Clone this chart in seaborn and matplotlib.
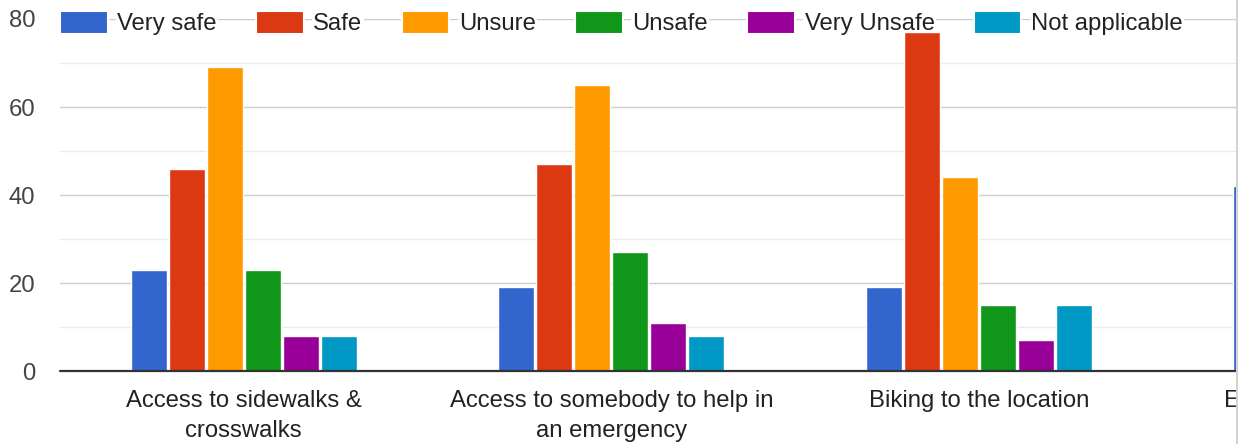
import numpy as np
import pandas as pd
import matplotlib.pyplot as plt
from matplotlib.patches import Patch, Rectangle
from matplotlib.lines import Line2D
import seaborn as sns

# --- DATA ---
categories = [
    "Access to sidewalks &\ncrosswalks",
    "Access to somebody to help in\nan emergency",
    "Biking to the location",
    "Entering the building at\nnight",  # only the first letter is visible
]
responses = ["Very safe", "Safe", "Unsure", "Unsafe", "Very Unsafe", "Not applicable"]
very_safe = [23, 19, 19, 42]
safe = [46, 47, 77, np.nan]
unsure = [69, 65, 44, np.nan]
unsafe = [23, 27, 15, np.nan]
very_unsafe = [8, 11, 7, np.nan]
not_applicable = [8, 8, 15, np.nan]
colors = ["#3366cc", "#dc3912", "#ff9900", "#109618", "#990099", "#0099c6"]

# --- TIDY TABLE ---
series = [very_safe, safe, unsure, unsafe, very_unsafe, not_applicable]
rows = []
for resp, vals in zip(responses, series):
    for cat, v in zip(categories, vals):
        rows.append({"category": cat, "response": resp, "count": v})
df = pd.DataFrame(rows).dropna()
palette = dict(zip(responses, colors))

# --- STYLE ---
sns.set_style("white")
plt.rcParams["font.family"] = ["Liberation Sans", "DejaVu Sans"]
FS = 17.2

W, H = 1241, 444
fig = plt.figure(figsize=(W / 100, H / 100), dpi=100)
ax = fig.add_axes([60 / W, 1 - 371 / H, (1236 - 60) / W, (371 - 19) / H])

sns.barplot(
    data=df, x="category", y="count", hue="response",
    order=categories, hue_order=responses, palette=palette,
    width=0.62, gap=0.05, saturation=1, legend=False, ax=ax, zorder=3,
)

ax.set_xlim(-0.5, 2.7)
ax.set_ylim(0, 80)
ax.set_xlabel("")
ax.set_ylabel("")
sns.despine(ax=ax, left=True, bottom=True)

# grid lines
ax.set_yticks([0, 20, 40, 60, 80])
ax.set_yticks([10, 30, 50, 70], minor=True)
ax.grid(which="major", axis="y", color="#cccccc", lw=1.0, zorder=0)
ax.grid(which="minor", axis="y", color="#ebebeb", lw=1.0, zorder=0)
ax.grid(axis="x", visible=False)
ax.set_axisbelow(True)
ax.axhline(0, color="#333333", lw=1.6, zorder=4, clip_on=False)

ax.tick_params(axis="y", which="both", length=0, pad=18, labelsize=FS, labelcolor="#444444")
ax.tick_params(axis="x", length=0, pad=14, labelsize=FS, labelcolor="#222222")
for lab in ax.get_xticklabels():
    lab.set_linespacing(1.42)

# label of the 4th (cut off) category sits outside the view limits
ax.annotate(categories[3], xy=(3, 0), xycoords=ax.get_xaxis_transform(),
            xytext=(0, -14), textcoords="offset points", ha="center", va="top",
            fontsize=FS, color="#222222", linespacing=1.42, annotation_clip=False)

# --- LEGEND across the top, over the 80 grid line ---
handles = [Patch(facecolor=c, edgecolor="white", linewidth=1.5) for c in colors]
leg = ax.legend(
    handles, responses, ncol=6, frameon=False, fontsize=FS,
    loc="center left", bbox_to_anchor=(60 / W, 1 - 23 / H),
    bbox_transform=fig.transFigure, borderpad=0, borderaxespad=0,
    handlelength=2.0, handleheight=1.15, handletextpad=0.4, columnspacing=1.64,
)
leg.set_zorder(2)  # above the grid, below the bars
for t in leg.get_texts():
    t.set_color("#222222")
    t.set_bbox(dict(facecolor="white", edgecolor="none", pad=1))

# right-hand border of the screenshot
fig.add_artist(Rectangle((1237 / W, 0), 4 / W, 1, transform=fig.transFigure,
                         facecolor="white", edgecolor="none", zorder=10))
fig.add_artist(Line2D([1237 / W, 1237 / W], [0, 1], transform=fig.transFigure,
                      color="#d4d4d4", lw=1.5, zorder=11))

fig.savefig("out.png", dpi=100)
